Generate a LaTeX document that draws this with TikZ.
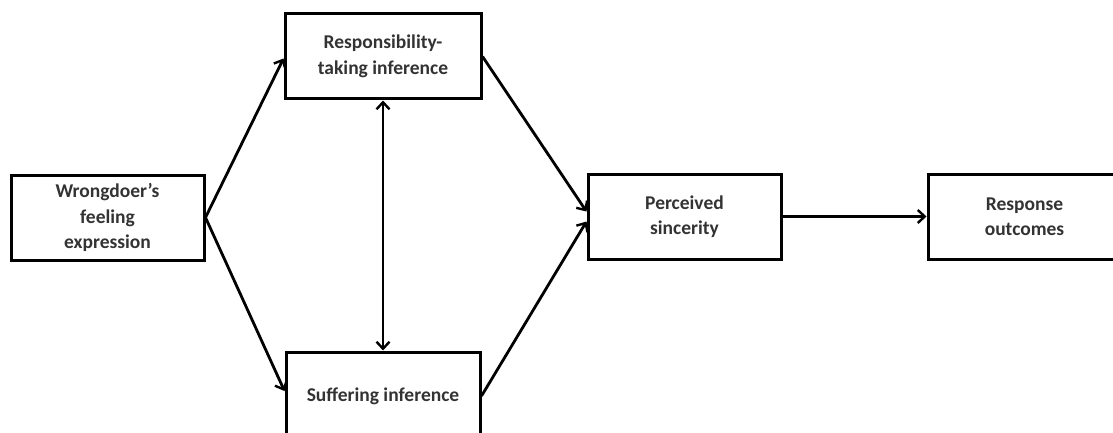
\documentclass[tikz,border=0pt]{standalone}
\usepackage{fontspec}
\setmainfont{Carlito}
\usetikzlibrary{arrows.meta}
\begin{document}
\begin{tikzpicture}[x=1pt,y=-1pt,
  box/.style={draw=black,line width=3pt,fill=white,align=center,
    font=\fontsize{19.5}{25.5}\selectfont\bfseries,text=black!80,
    minimum width=193pt,minimum height=85pt,inner sep=0pt},
  tip/.style={},
  conn/.style={line width=2.8pt,-{Straight Barb[length=7pt,width=13pt,line width=2.4pt]}},
  dconn/.style={line width=2.8pt,{Straight Barb[length=7pt,width=13pt,line width=2.4pt]}-{Straight Barb[length=7pt,width=13pt,line width=2.4pt]}}]
\useasboundingbox (0,0) rectangle (1113,433);
\fill[white] (0,0) rectangle (1113,433);
\node[box] (wf) at (107.5,217.5) {Wrongdoer's\\feeling\\expression};
\node[box,minimum width=196pt] (rt) at (383,56.5) {Responsibility-\\taking inference};
\node[box,minimum width=194pt,minimum height=88pt] (si) at (383,396) {Suffering inference};
\node[box] (ps) at (684.5,216.5) {Perceived\\sincerity};
\node[box] (ro) at (1024.5,216.5) {Response\\outcomes};
\draw[conn] (wf.east) -- ([yshift=-2pt]rt.west);
\draw[conn] (wf.east) -- ([yshift=5pt]si.west);
\draw[conn] (rt.east) -- ([yshift=5pt]ps.west);
\draw[conn] (si.east) -- ([yshift=-5pt]ps.west);
\draw[conn] (ps.east) -- (ro.west);
\draw[dconn] (rt.south) -- (si.north);
\end{tikzpicture}
\end{document}
